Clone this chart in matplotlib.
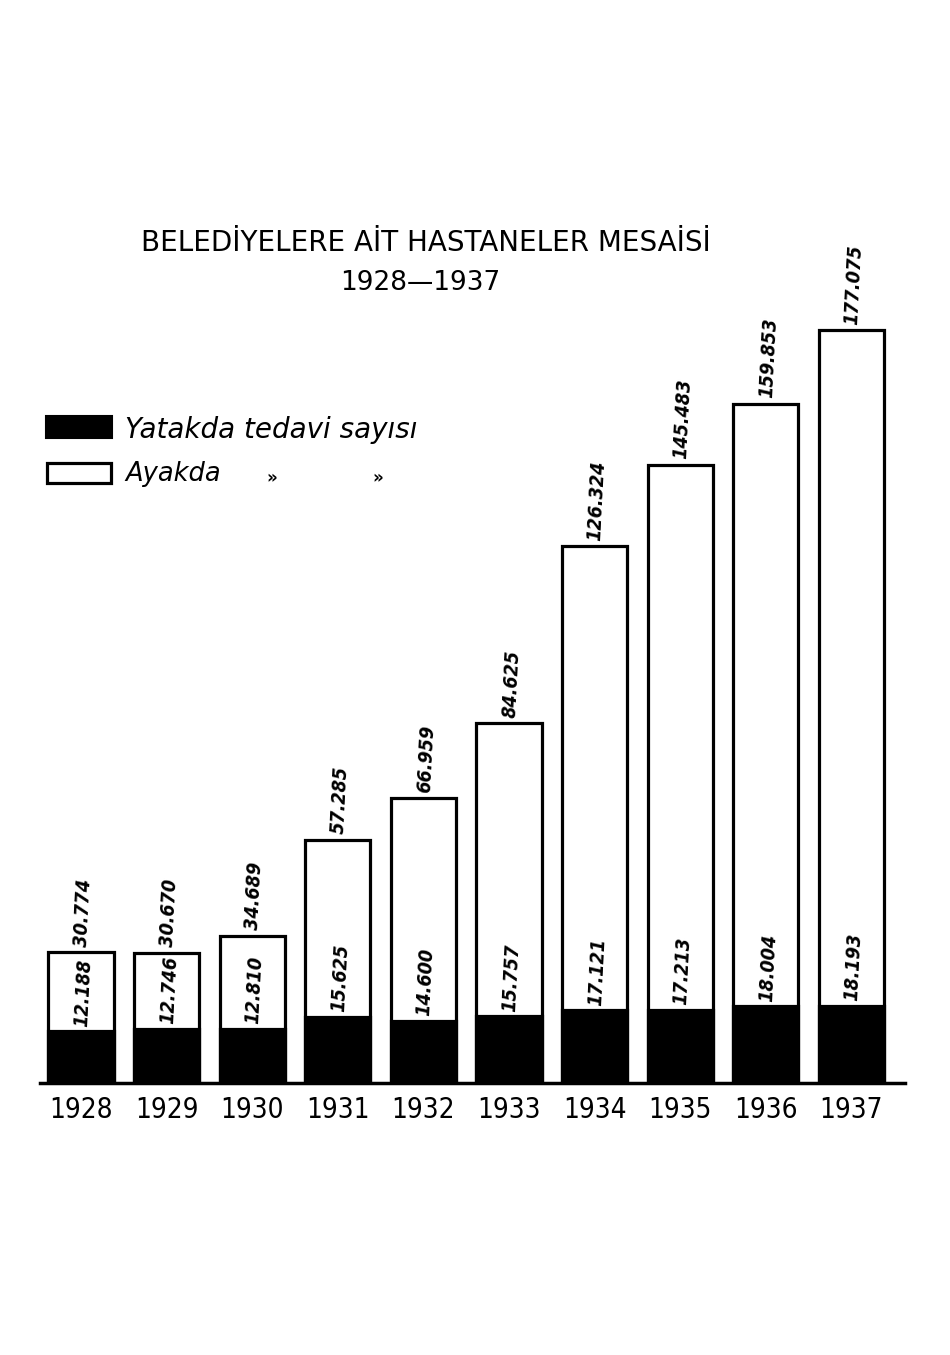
import matplotlib
matplotlib.use("Agg")
import matplotlib.pyplot as plt
from matplotlib.patches import Rectangle

# data (thousands of patients)
years = ["1928", "1929", "1930", "1931", "1932", "1933", "1934", "1935", "1936", "1937"]
ayakda = [30.774, 30.670, 34.689, 57.285, 66.959, 84.625, 126.324, 145.483, 159.853, 177.075]
yatakda = [12.188, 12.746, 12.810, 15.625, 14.600, 15.757, 17.121, 17.213, 18.004, 18.193]
ayakda_labels = ["30.774", "30.670", "34.689", "57.285", "66.959", "84.625",
                 "126.324", "145.483", "159.853", "177.075"]
yatakda_labels = ["12.188", "12.746", "12.810", "15.625", "14.600", "15.757",
                  "17.121", "17.213", "18.004", "18.193"]

W, H = 950, 1355
fig = plt.figure(figsize=(W / 100, H / 100), dpi=100)

# axes placed so baseline sits at y=1083px, bars centered every ~85.6px
base_px, top_px = 1083, 200
left_px, right_px = 40, 905
ax = fig.add_axes([left_px / W, (H - base_px) / H, (right_px - left_px) / W, (base_px - top_px) / H])
ax.set_xlim((left_px - 81) / 85.6, (right_px - 81) / 85.6)
ax.set_ylim(0, (base_px - top_px) / 4.25)

x = range(len(years))
ax.bar(x, ayakda, width=0.76, color="white", edgecolor="black", linewidth=2.3, zorder=2)
ax.bar(x, yatakda, width=0.76, color="black", edgecolor="black", linewidth=2.3, zorder=3)

num_font = dict(family="DejaVu Sans", fontstretch="condensed", style="italic",
                fontweight="bold", fontsize=14)
for i in x:
    ax.text(i + 0.03, ayakda[i] + 1.2, ayakda_labels[i], rotation=87,
            ha="center", va="bottom", zorder=4, **num_font)
    ax.text(i + 0.03, yatakda[i] + 1.0, yatakda_labels[i], rotation=87,
            ha="center", va="bottom", zorder=4, **num_font)

for s in ["top", "right", "left"]:
    ax.spines[s].set_visible(False)
ax.spines["bottom"].set_linewidth(2.5)
ax.spines["bottom"].set_zorder(5)
ax.set_yticks([])
ax.set_xticks(list(x), years)
ax.tick_params(axis="x", length=0, pad=9)
for lbl in ax.get_xticklabels():
    lbl.set_fontfamily("DejaVu Sans")
    lbl.set_fontstretch("condensed")
    lbl.set_fontsize(20)

# title
fig.text(426 / W, 1 - 243 / H, "BELEDİYELERE AİT HASTANELER MESAİSİ",
         ha="center", va="center", fontsize=20)
fig.text(420 / W, 1 - 283 / H, "1928—1937", ha="center", va="center", fontsize=19)

# legend
fig.add_artist(Rectangle((46 / W, 1 - 438 / H), 66 / W, 22 / H, transform=fig.transFigure,
                         facecolor="black", edgecolor="black", linewidth=1.5))
fig.add_artist(Rectangle((47 / W, 1 - 483 / H), 64 / W, 20 / H, transform=fig.transFigure,
                         facecolor="white", edgecolor="black", linewidth=2.3))
fig.text(125 / W, 1 - 430 / H, "Yatakda tedavi sayısı", ha="left", va="center",
         fontsize=20, style="italic")
fig.text(125 / W, 1 - 474 / H, "Ayakda", ha="left", va="center",
         fontsize=18.5, style="italic")
fig.text(272 / W, 1 - 478 / H, "»", ha="center", va="center", fontsize=12, fontweight="bold")
fig.text(378 / W, 1 - 478 / H, "»", ha="center", va="center", fontsize=12, fontweight="bold")

fig.savefig("out.png", dpi=100, facecolor="white")
